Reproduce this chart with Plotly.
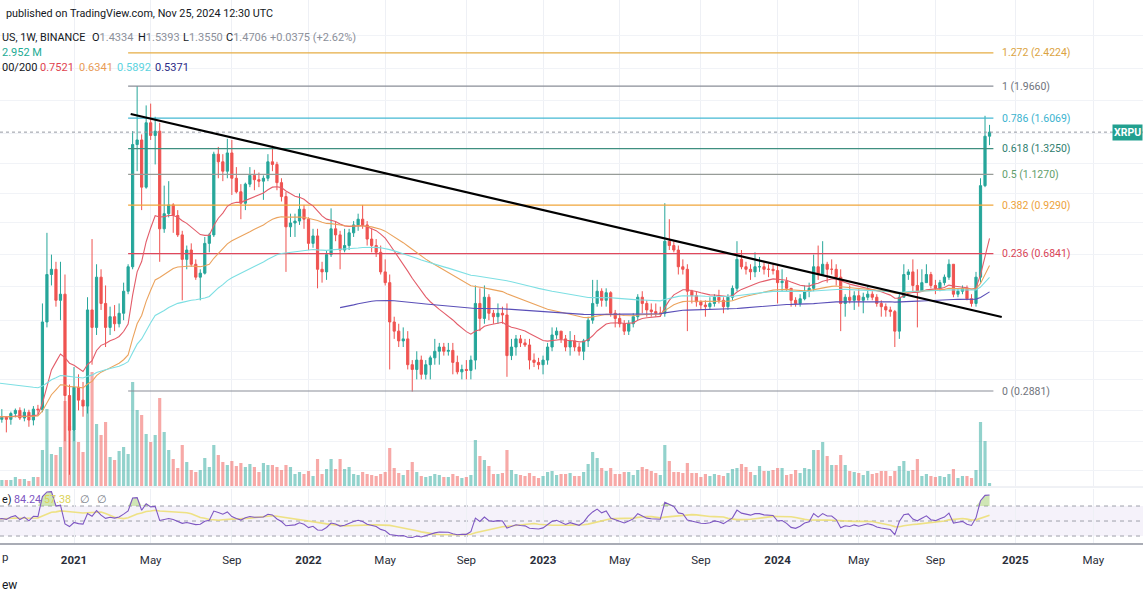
import numpy as np
import pandas as pd
import plotly.graph_objects as go

W, H = 1143, 600

# ---------------- data (weekly XRP/USDT) ----------------
first_week = "2020-09-07"
first_open = 0.243

highs = [
    0.255, 0.257, 0.246, 0.253, 0.258, 0.260, 0.258, 0.256, 0.262, 0.264,
    0.500, 0.780, 0.680, 0.650, 0.650, 0.600, 0.300,
    0.335, 0.320, 0.305, 0.520, 0.750, 0.640, 0.620, 0.560, 0.490, 0.495,
    0.500, 0.570, 0.640, 1.480, 1.966, 1.450, 1.740, 1.760, 1.620, 1.560,
    1.050, 1.080, 0.940, 0.900, 0.790, 0.720, 0.730, 0.660, 0.620, 0.760,
    0.780, 1.300, 1.340, 1.280, 1.410, 1.400, 1.180, 1.060, 1.070, 1.180,
    1.160, 1.140, 1.120, 1.280, 1.350, 1.220, 1.100, 1.010, 0.880, 0.880,
    1.000, 0.930, 0.860, 0.800, 0.800, 0.650, 0.700, 0.910, 0.840, 0.790,
    0.800, 0.800, 0.840, 0.880, 0.930, 0.840, 0.800, 0.750, 0.720, 0.660,
    0.600, 0.460, 0.440, 0.430, 0.420, 0.350, 0.370, 0.360, 0.350, 0.360,
    0.400, 0.390, 0.390, 0.390, 0.390, 0.360, 0.340, 0.350, 0.360, 0.560,
    0.550, 0.560, 0.530, 0.480, 0.500, 0.490, 0.500, 0.400, 0.410, 0.410,
    0.400, 0.400, 0.365, 0.355, 0.360, 0.390, 0.430, 0.430, 0.420, 0.410,
    0.420, 0.410, 0.390, 0.400, 0.460, 0.580, 0.580, 0.550, 0.550, 0.540,
    0.480, 0.470, 0.450, 0.450, 0.470, 0.530, 0.540, 0.510, 0.500, 0.500,
    0.490, 0.940, 0.850, 0.740, 0.720, 0.660, 0.640, 0.545, 0.540, 0.510,
    0.510, 0.520, 0.530, 0.545, 0.520, 0.530, 0.560, 0.740, 0.700, 0.650,
    0.640, 0.690, 0.670, 0.650, 0.640, 0.640, 0.640, 0.620, 0.590, 0.550,
    0.520, 0.530, 0.560, 0.570, 0.680, 0.720, 0.740, 0.650, 0.660, 0.640,
    0.620, 0.530, 0.560, 0.540, 0.550, 0.535, 0.560, 0.540, 0.530, 0.510,
    0.500, 0.490, 0.480, 0.530, 0.640, 0.620, 0.660, 0.620, 0.620, 0.640,
    0.610, 0.580, 0.580, 0.600, 0.660, 0.640, 0.550, 0.560, 0.560, 0.530,
    0.610, 1.100, 1.630, 1.5393,
]

lows = [
    0.233, 0.236, 0.222, 0.233, 0.244, 0.240, 0.238, 0.230, 0.232, 0.248,
    0.252, 0.430, 0.560, 0.490, 0.450, 0.210, 0.170,
    0.210, 0.255, 0.245, 0.250, 0.340, 0.410, 0.480, 0.380, 0.410, 0.420,
    0.430, 0.450, 0.530, 0.620, 1.150, 0.900, 1.030, 1.400, 1.200, 0.650,
    0.780, 0.860, 0.780, 0.760, 0.510, 0.620, 0.630, 0.580, 0.510, 0.600,
    0.690, 0.760, 1.100, 1.080, 1.100, 0.990, 1.000, 0.850, 0.900, 1.040,
    1.020, 1.040, 0.960, 1.080, 1.150, 1.020, 0.950, 0.610, 0.760, 0.760,
    0.820, 0.800, 0.700, 0.710, 0.550, 0.570, 0.580, 0.670, 0.740, 0.620,
    0.690, 0.700, 0.760, 0.790, 0.800, 0.720, 0.690, 0.670, 0.600, 0.560,
    0.330, 0.400, 0.380, 0.380, 0.330, 0.287, 0.310, 0.310, 0.310, 0.310,
    0.340, 0.340, 0.360, 0.360, 0.320, 0.320, 0.310, 0.310, 0.310, 0.330,
    0.420, 0.440, 0.450, 0.440, 0.440, 0.440, 0.315, 0.350, 0.360, 0.380,
    0.380, 0.330, 0.335, 0.330, 0.320, 0.340, 0.370, 0.400, 0.390, 0.370,
    0.360, 0.370, 0.360, 0.350, 0.380, 0.440, 0.490, 0.490, 0.490, 0.460,
    0.430, 0.430, 0.410, 0.410, 0.430, 0.450, 0.470, 0.460, 0.460, 0.460,
    0.460, 0.460, 0.700, 0.690, 0.600, 0.600, 0.420, 0.500, 0.490, 0.480,
    0.460, 0.480, 0.490, 0.500, 0.470, 0.480, 0.510, 0.540, 0.620, 0.600,
    0.580, 0.590, 0.610, 0.600, 0.590, 0.600, 0.500, 0.540, 0.540, 0.490,
    0.490, 0.490, 0.510, 0.520, 0.540, 0.580, 0.600, 0.570, 0.600, 0.560,
    0.420, 0.460, 0.500, 0.480, 0.490, 0.470, 0.510, 0.510, 0.490, 0.460,
    0.460, 0.460, 0.380, 0.400, 0.520, 0.580, 0.540, 0.430, 0.540, 0.570,
    0.550, 0.530, 0.540, 0.560, 0.580, 0.520, 0.520, 0.530, 0.510, 0.490,
    0.490, 0.570, 1.040, 1.355,
]

closes = [
    0.241, 0.244, 0.241, 0.250, 0.255, 0.243, 0.252, 0.240, 0.257, 0.256,
    0.445, 0.600, 0.620, 0.510, 0.530, 0.280, 0.225,
    0.295, 0.272, 0.262, 0.480, 0.430, 0.590, 0.500, 0.430, 0.460, 0.440,
    0.470, 0.540, 0.630, 1.360, 1.400, 1.040, 1.560, 1.440, 1.480, 0.800,
    0.880, 0.930, 0.870, 0.770, 0.660, 0.700, 0.640, 0.590, 0.605, 0.730,
    0.770, 1.280, 1.220, 1.150, 1.290, 1.100, 1.010, 0.940, 1.060, 1.120,
    1.090, 1.080, 1.100, 1.220, 1.200, 1.070, 0.980, 0.810, 0.830, 0.840,
    0.905, 0.850, 0.730, 0.765, 0.620, 0.610, 0.680, 0.800, 0.770, 0.700,
    0.720, 0.780, 0.820, 0.850, 0.820, 0.750, 0.720, 0.690, 0.610, 0.570,
    0.445, 0.420, 0.395, 0.400, 0.340, 0.330, 0.350, 0.320, 0.340, 0.355,
    0.370, 0.380, 0.370, 0.372, 0.345, 0.325, 0.330, 0.328, 0.350, 0.500,
    0.455, 0.520, 0.470, 0.460, 0.470, 0.465, 0.360, 0.380, 0.400, 0.390,
    0.385, 0.350, 0.345, 0.340, 0.350, 0.380, 0.410, 0.420, 0.400, 0.380,
    0.395, 0.380, 0.370, 0.395, 0.450, 0.500, 0.540, 0.510, 0.535, 0.470,
    0.455, 0.440, 0.420, 0.440, 0.460, 0.520, 0.500, 0.480, 0.475, 0.470,
    0.470, 0.740, 0.720, 0.700, 0.630, 0.620, 0.540, 0.525, 0.505, 0.495,
    0.490, 0.500, 0.520, 0.510, 0.490, 0.520, 0.550, 0.660, 0.630, 0.620,
    0.610, 0.630, 0.630, 0.620, 0.620, 0.615, 0.570, 0.575, 0.550, 0.510,
    0.500, 0.515, 0.540, 0.550, 0.630, 0.600, 0.640, 0.620, 0.620, 0.590,
    0.500, 0.520, 0.510, 0.525, 0.510, 0.520, 0.530, 0.520, 0.500, 0.490,
    0.480, 0.475, 0.420, 0.520, 0.600, 0.610, 0.560, 0.540, 0.570, 0.600,
    0.560, 0.550, 0.570, 0.590, 0.640, 0.530, 0.540, 0.550, 0.515, 0.500,
    0.590, 1.050, 1.4334, 1.4706,
]

volumes_m = [
    650, 780, 780, 780, 1170, 910, 910, 650, 1170, 1170,
    4680, 10010, 4160, 4030, 5070, 11050, 7800,
    7150, 5720, 4420, 13000, 14820, 8060, 6630, 8320, 3770, 3380, 4550, 5070, 4160,
    13520, 9880, 9230, 6760, 5720, 6630, 11440, 7020, 4680, 3510, 2340, 5330,
    3120, 2080, 1820, 2080, 3640, 2470, 5330, 4030, 3120, 2730,
    3250, 2600, 2990, 2470, 2860, 2470, 1820, 2990, 2730, 2730, 2470, 2080,
    2730, 2470, 1560, 1820, 1560, 1950, 1300, 3510, 1560, 2210, 3510, 2210, 3510, 2210, 2470, 1560, 1430,
    1820, 1560, 1430, 1300, 1560, 1820, 4940, 2340, 1690, 1430,
    2080, 3120, 1820, 1300, 1170, 1300, 1560, 1430, 1170, 1170,
    1560, 1300, 1040, 1170, 1430, 5980, 3900, 3380, 2600, 1560,
    1560, 1690, 4680, 2080, 1560, 1430, 1300, 1690, 1300, 1040,
    1300, 1820, 1950, 1430, 1560, 1560, 1690, 1300, 1300, 1820,
    2860, 4420, 3640, 2340, 1950, 2340, 1560,
    1560, 1820, 1820, 1430, 2080, 2470, 2210, 1950, 1690, 1430,
    5330, 3250, 1820, 1820, 1690, 2990, 1690, 1690, 1170, 1560,
    1300, 1560, 1430, 1300, 1690, 2210, 2340, 2860, 2470, 1820,
    1430, 2600, 1950, 1950, 2080, 2340, 2340, 1430, 1560, 2080,
    1690, 2340, 2210, 4680, 4680, 5720, 3900, 2730, 2730, 4030,
    2730, 1950, 1820, 1690, 1430, 1950, 1560, 1690, 1950,
    1950, 1300, 1950, 2600, 3250, 1950, 2080, 3510, 1300, 1560,
    1300, 1170, 1300, 1170, 1560, 2210, 1040, 1300, 1300, 1040,
    2080, 8320, 5850, 390,
]

# moving-average settings (EMA 20/50/100/200) and their values at the left edge
ema_lengths = [20, 50, 100, 200]
ema_seeds = [0.245, 0.245, 0.303, 0.487]
ema_first_bar = ["2020-09-07", "2020-09-07", "2020-09-07", "2022-02-21"]
ema_colors = ["#e35d6a", "#eba35d", "#7ddfe3", "#5a4fb8"]

# RSI(14) starting state
rsi_seed_gain, rsi_seed_loss = 0.0055, 0.0050

# Fibonacci retracement drawn on the chart
fib_ratios = ["0", "0.236", "0.382", "0.5", "0.618", "0.786", "1", "1.272"]
fib_prices = [0.2881, 0.6841, 0.9290, 1.1270, 1.3250, 1.6069, 1.9660, 2.4224]
fib_line_colors = ["#8a8e97", "#e0485c", "#f0a63a", "#979c98", "#3f8f80", "#45b9d3", "#8a8e97", "#e6ad45"]
fib_text_colors = ["#6f737c", "#d84457", "#eda23a", "#5f9e6c", "#2f7e6f", "#3bb3cf", "#6f737c", "#dba342"]
fib_start, fib_end = "2021-03-29", "2024-12-01"

# descending trendline (drawing)
trend_dates = ["2021-04-02", "2024-12-14"]
trend_prices = [1.649, 0.459]

last_price = 1.4706

tick_dates = ["2021-01-04", "2021-05-03", "2021-09-06", "2022-01-03", "2022-05-02",
              "2022-09-05", "2023-01-02", "2023-05-01", "2023-09-04", "2024-01-01",
              "2024-05-06", "2024-09-02", "2025-01-04", "2025-05-05"]
tick_labels = ["<b>2021</b>", "May", "Sep", "<b>2022</b>", "May", "Sep", "<b>2023</b>",
               "May", "Sep", "<b>2024</b>", "May", "Sep", "<b>2025</b>", "May"]

# ---------------- derived series ----------------
N = len(closes)
dates = pd.date_range(first_week, periods=N, freq="7D")
opens = [first_open] + closes[:-1]


def ema_series(values, length, seed, start):
    a = 2.0 / (length + 1)
    out = [None] * len(values)
    e = seed
    out[start] = e
    for i in range(start + 1, len(values)):
        e = e + a * (values[i] - e)
        out[i] = e
    return out


ag, al = rsi_seed_gain, rsi_seed_loss
rsi = [100 - 100 / (1 + ag / al)]
for i in range(1, N):
    ch = closes[i] - closes[i - 1]
    ag = (ag * 13 + max(ch, 0)) / 14
    al = (al * 13 + max(-ch, 0)) / 14
    rsi.append(100 - 100 / (1 + ag / al))
rsi_ma = pd.Series(rsi).rolling(14, min_periods=1).mean().tolist()
rsi_hi = [max(v, 70) for v in rsi]

# ---------------- geometry ----------------
FONT = "Roboto, 'Noto Sans', sans-serif"
px_per_week = 4.51
anchor_day = pd.Timestamp("2021-01-04")
anchor_px = 74
x_lo = anchor_day - pd.Timedelta(days=anchor_px / px_per_week * 7)
x_hi = x_lo + pd.Timedelta(days=W / px_per_week * 7)

price_top_px, price_bot_px = 0, 486
rsi_top_px, rsi_bot_px = 489, 543
# log scale: 158.8 px per natural-log unit, 0.2881 at y=391
ln_ref, y_ref, k = np.log(0.2881), 391, 158.8
log_lo = (ln_ref - (price_bot_px - y_ref) / k) / np.log(10)
log_hi = (ln_ref + (y_ref - price_top_px) / k) / np.log(10)
vol_top = 63180


def py(y):
    return 1 - y / H


fig = go.Figure()

# volume (behind, base axis)
vol_colors = ["rgba(38,166,154,0.5)" if c >= o else "rgba(239,83,80,0.5)" for o, c in zip(opens, closes)]
fig.add_trace(go.Bar(x=dates, y=volumes_m, marker=dict(color=vol_colors, line=dict(width=0)),
                     xaxis="x", yaxis="y", hoverinfo="skip"))

# fib levels
for r, p, lc in zip(fib_ratios, fib_prices, fib_line_colors):
    fig.add_trace(go.Scatter(x=[fib_start, fib_end], y=[p, p], mode="lines",
                             line=dict(color=lc, width=1.2), xaxis="x", yaxis="y2", hoverinfo="skip"))

# last price dotted line
fig.add_trace(go.Scatter(x=[x_lo, x_hi], y=[last_price, last_price], mode="lines",
                         line=dict(color="#9598a1", width=1, dash="dot"), xaxis="x", yaxis="y2", hoverinfo="skip"))

# EMAs
for L, s, fb, col in zip(ema_lengths, ema_seeds, ema_first_bar, ema_colors):
    start = int(np.argmin(np.abs(dates - pd.Timestamp(fb))))
    fig.add_trace(go.Scatter(x=dates, y=ema_series(closes, L, s, start), mode="lines",
                             line=dict(color=col, width=1.1), xaxis="x", yaxis="y2", hoverinfo="skip",
                             connectgaps=False))

# candles
fig.add_trace(go.Candlestick(x=dates, open=opens, high=highs, low=lows, close=closes,
                             increasing=dict(line=dict(color="#26a69a", width=1), fillcolor="#26a69a"),
                             decreasing=dict(line=dict(color="#ef5350", width=1), fillcolor="#ef5350"),
                             whiskerwidth=0, xaxis="x", yaxis="y2", hoverinfo="skip"))

# trendline
fig.add_trace(go.Scatter(x=trend_dates, y=trend_prices, mode="lines",
                         line=dict(color="#000000", width=2.2), xaxis="x", yaxis="y2", hoverinfo="skip"))

# RSI pane
fig.add_trace(go.Scatter(x=dates, y=[70] * N, mode="lines", line=dict(width=0, color="rgba(0,0,0,0)"),
                         xaxis="x2", yaxis="y3", hoverinfo="skip"))
fig.add_trace(go.Scatter(x=dates, y=rsi_hi, mode="lines", line=dict(width=0, color="rgba(0,0,0,0)"),
                         fill="tonexty", fillcolor="rgba(150,200,90,0.45)", xaxis="x2", yaxis="y3", hoverinfo="skip"))
fig.add_trace(go.Scatter(x=dates, y=rsi_ma, mode="lines", line=dict(color="rgba(236,222,110,0.85)", width=1.6),
                         xaxis="x2", yaxis="y3", hoverinfo="skip"))
fig.add_trace(go.Scatter(x=dates, y=rsi, mode="lines", line=dict(color="#7e57c2", width=1.1),
                         xaxis="x2", yaxis="y3", hoverinfo="skip"))

# ---------------- shapes ----------------
shapes = [
    dict(type="rect", xref="paper", yref="y3", x0=0, x1=1, y0=30, y1=70,
         fillcolor="rgba(126,87,194,0.08)", line=dict(width=0), layer="below"),
    dict(type="line", xref="paper", yref="paper", x0=0, x1=1, y0=py(487), y1=py(487),
         line=dict(color="#e0e3eb", width=1)),
]
for lvl in (70, 50, 30):
    shapes.append(dict(type="line", xref="paper", yref="y3", x0=0, x1=1, y0=lvl, y1=lvl,
                       line=dict(color="#9ea1aa", width=1, dash="4px,4px"), layer="below"))

# ---------------- annotations ----------------
ann = []
HS = 11


def txt(x, y, text, color="#131722", size=HS, anchor="left"):
    ann.append(dict(x=x / W, y=py(y), xref="paper", yref="paper", text=text, showarrow=False,
                    xanchor=anchor, yanchor="middle", font=dict(family=FONT, size=size, color=color)))


grey = "#8c909a"
txt(4, 14, "published on TradingView.com, Nov 25, 2024 12:30 UTC", size=10.8)
txt(0, 37.5, "US, 1W, BINANCE", size=10.8)
txt(90, 37.5, f"O<span style='color:{grey}'>1.4334</span>")
txt(136, 37.5, f"H<span style='color:{grey}'>1.5393</span>")
txt(181, 37.5, f"L<span style='color:{grey}'>1.3550</span>")
txt(224, 37.5, f"C<span style='color:{grey}'>1.4706</span>")
txt(268, 37.5, "+0.0375 (+2.62%)", color=grey)
txt(0, 52.5, "2.952 M", color="#22ab94")
txt(0, 68, "00/200")
txt(38, 68, "0.7521", color="#e0434f")
txt(77, 68, "0.6341", color="#e89b55")
txt(115, 68, "0.5892", color="#5cd3e0")
txt(153, 68, "0.5371", color="#2b2a86")
# RSI legend
txt(0, 499, "e)", size=10.8)
txt(12, 499, "84.24", color="#7e57c2", size=10.8)
txt(42, 499, "57.38", color="#dcd35a", size=10.8)
txt(78, 499, "∅", color="#787b86", size=10.8)
txt(95, 499, "∅", color="#787b86", size=10.8)
# partial axis label at the left edge and bottom text
txt(0, 557, "p", color="#2a2e39", size=11.5)
txt(0, 585, "ew", size=12)

for r, p, tc in zip(fib_ratios, fib_prices, fib_text_colors):
    ann.append(dict(x=fib_end, y=np.log10(p), xref="x", yref="y2", text=f"{r} ({p:.4f})",
                    showarrow=False, xanchor="left", yanchor="middle", xshift=7,
                    font=dict(family=FONT, size=10.5, color=tc)))

ann.append(dict(x=1, y=np.log10(last_price), xref="paper", yref="y2", text="<b>XRPU</b>",
                showarrow=False, xanchor="right", yanchor="middle", bgcolor="#22a08f",
                borderpad=1, font=dict(family=FONT, size=10.5, color="white")))

grid_prices = [0.175, 0.21, 0.255, 0.31, 0.37, 0.45, 0.555, 0.68, 0.835, 1.0, 1.21, 1.46, 1.8, 2.2, 2.7]

fig.update_layout(
    width=W, height=H, margin=dict(l=0, r=0, t=0, b=0),
    paper_bgcolor="white", plot_bgcolor="white", showlegend=False, hovermode=False,
    bargap=0.3, font=dict(family=FONT, size=11, color="#131722"),
    xaxis=dict(type="date", range=[x_lo, x_hi], anchor="y", domain=[0, 1],
               tickvals=tick_dates, showticklabels=False, showgrid=True, gridcolor="#eef0f5",
               zeroline=False, showline=False, rangeslider=dict(visible=False), ticks=""),
    xaxis2=dict(type="date", range=[x_lo, x_hi], anchor="y3", domain=[0, 1], matches="x",
                tickvals=tick_dates, ticktext=tick_labels, showgrid=True, gridcolor="#eef0f5",
                showline=True, linecolor="#a9acb5", linewidth=1.5, ticks="", zeroline=False,
                tickfont=dict(family=FONT, size=11.5, color="#2a2e39"), ticklabelstandoff=5),
    yaxis=dict(domain=[py(price_bot_px), py(price_top_px)], range=[0, vol_top], visible=False,
               showgrid=False, fixedrange=True),
    yaxis2=dict(type="log", overlaying="y", range=[log_lo, log_hi], side="right",
                tickvals=grid_prices, showticklabels=False, showgrid=True, gridcolor="#f1f3f7",
                zeroline=False, ticks=""),
    yaxis3=dict(domain=[py(rsi_bot_px), py(rsi_top_px)], range=[20.7, 92.7], showgrid=False,
                showticklabels=False, zeroline=False, ticks=""),
    shapes=shapes, annotations=ann,
)

fig.write_html("out.html", config={"displayModeBar": False},
               post_script="document.body.style.margin='0';document.body.style.overflow='hidden';")
